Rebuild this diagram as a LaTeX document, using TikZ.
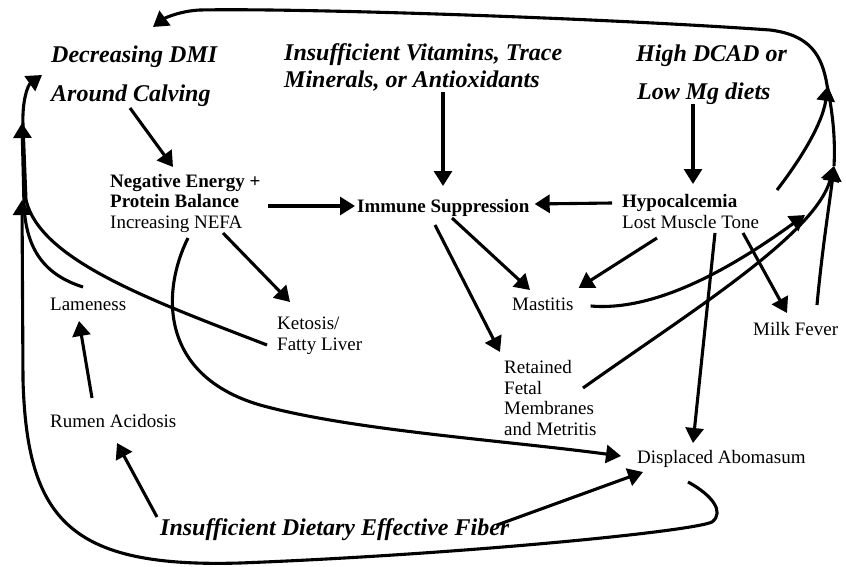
\documentclass[tikz,border=0pt]{standalone}
\usepackage{fontspec}
\setmainfont{Liberation Serif}
\usetikzlibrary{arrows.meta,calc}

\begin{document}
\begin{tikzpicture}[x=1pt,y=-1pt,
  link/.style={line width=3.1pt,-{Triangle[length=15pt,width=18pt]}},
  cause/.style={anchor=base west,inner sep=0pt,align=left,
    font=\fontsize{24}{27}\selectfont\bfseries\itshape},
  effect/.style={anchor=base west,inner sep=0pt,align=left,
    font=\fontsize{19}{20.5}\selectfont},
]
\useasboundingbox (0,0) rectangle (846,567);

% causes (bold italic); multi-line nodes sit on their last baseline
\node[cause] (dmi)   at (51,63)   {Decreasing DMI};
\node[cause] (calv)  at (51,102)  {Around Calving};
\node[cause] (vit)   at (284,88)  {Insufficient Vitamins, Trace\\Minerals, or Antioxidants};
\node[cause] (dcad)  at (636,62)  {High DCAD or};
\node[cause] (lowmg) at (637,100) {Low Mg diets};
\node[cause] (fiber) at (160,535) {Insufficient Dietary Effective Fiber};

% conditions and disorders
\node[effect] (neb)   at (110,228) {\textbf{Negative Energy +}\\\textbf{Protein Balance}\\Increasing NEFA};
\node[effect] (imm)   at (357,212) {\textbf{Immune Suppression}};
\node[effect] (hypo)  at (622,228) {\textbf{Hypocalcemia}\\Lost Muscle Tone};
\node[effect] (lame)  at (50,310)  {Lameness};
\node[effect] (keto)  at (277,350) {Ketosis/\\Fatty Liver};
\node[effect] (mast)  at (512,310) {Mastitis};
\node[effect] (milk)  at (753,335) {Milk Fever};
\node[effect] (rfm)   at (504,435) {Retained\\Fetal\\Membranes\\and Metritis};
\node[effect] (rumen) at (50,427)  {Rumen Acidosis};
\node[effect] (da)    at (637,463) {Displaced Abomasum};

% junction where the right-hand feedback lines merge
\coordinate (jr) at (834,166);

% straight links
\draw[link] ($(calv.base west)+(79,6)$)  -- ($(neb.base west)+(63,-61)$);
\draw[link] ($(neb.base west)+(158,-22)$) -- ($(imm.base west)+(-2,-6)$);
\draw[link] ($(vit.base west)+(159,4)$) -- ($(imm.base west)+(86,-26)$);
\draw[link] ($(lowmg.base west)+(56,4)$) -- ($(hypo.base west)+(71,-44)$);
\draw[link] ($(hypo.base west)+(-10,-25)$) -- ($(imm.base east)+(5,-8)$);
\draw[link] ($(imm.base west)+(95,6)$)   -- ($(mast.base west)+(18,-20)$);
\draw[link] ($(imm.base west)+(78,13)$)  -- ($(rfm.base west)+(-4,-83)$);
\draw[link] ($(hypo.base west)+(35,10)$) -- ($(mast.base east)+(5,-22)$);
\draw[link] ($(hypo.base west)+(93,5)$) -- ($(da.base west)+(56,-20)$);
\draw[link] ($(hypo.base west)+(121,5)$) -- ($(milk.base west)+(34,-22)$);
\draw[link] ($(neb.base west)+(113,5)$) -- ($(keto.base west)+(13,-48)$);
\draw[link] ($(fiber.base west)+(-3,-18)$) -- ($(rumen.base west)+(67,16)$);
\draw[link] ($(rumen.base west)+(42,-29)$) -- ($(lame.base west)+(29,11)$);
\draw[link] ($(fiber.base west)+(337,-10)$) -- ($(da.base west)+(6,9)$);

% curved link to the abomasum
\draw[link] ($(neb.base west)+(78,10)$) .. controls (162,290) and (158,375) .. (260,405)
  .. controls (350,430) and (500,440) .. ($(da.base west)+(-16,-7)$);

% right-hand feedback bundle
\draw[link] ($(hypo.base west)+(155,-38)$) .. controls (800,160) and (822,125) .. (828,86);
\draw[link] ($(milk.base west)+(64,-30)$) .. controls (822,250) and (830,200) .. (jr);
\draw[link] ($(mast.base east)+(17,-4)$) .. controls (660,312) and (740,262) .. (805,215);
\draw[link] ($(rfm.base west)+(79,-47)$) .. controls (690,312) and (815,235) .. (jr);
\draw[link] (jr) .. controls (836,130) and (830,100) .. (827,85)
  .. controls (822,55) and (810,35) .. (770,30)
  .. controls (600,18) and (300,8) .. (200,10)
  .. controls (180,11) and (165,18) .. ($(dmi.base west)+(102,-36)$);

% left-hand feedback bundle
\draw[link] ($(da.base west)+(51,19)$) .. controls (712,495) and (725,512) .. (712,522)
  .. controls (690,532) and (450,555) .. (240,563)
  .. controls (70,568) and (27,520) .. (23,380) -- (22,200);
\draw[link] ($(lame.base west)+(33,-23)$) .. controls (45,275) and (26,250) .. (24,205) -- (22,123);
\draw[link] ($(keto.base west)+(-10,-5)$) .. controls (150,300) and (40,260) .. (26,200)
  -- (23,125) .. controls (22,100) and (28,85) .. ($(dmi.base west)+(-9,12)$);
\end{tikzpicture}
\end{document}
